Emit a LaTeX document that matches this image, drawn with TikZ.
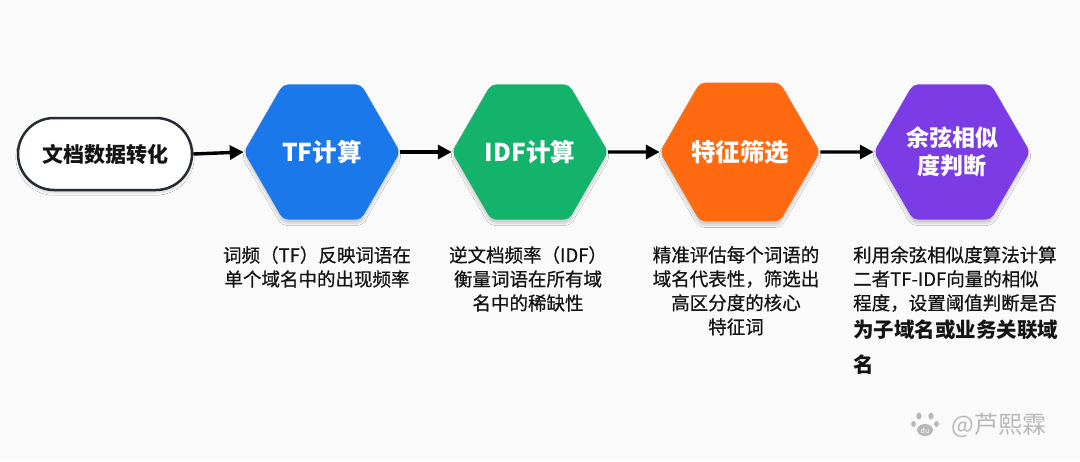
\documentclass[tikz,border=0pt]{standalone}
\usepackage{fontspec}
\setmainfont{Noto Sans CJK SC}
\newfontfamily\descfont[FakeBold=0.7]{Noto Sans CJK SC}
\usetikzlibrary{arrows.meta,shapes.geometric,shadows.blur}
\definecolor{tfblue}{HTML}{1A78EA}
\definecolor{idfgreen}{HTML}{14B36C}
\definecolor{fsorange}{HTML}{FF6A10}
\definecolor{cospurple}{HTML}{7B3CE6}
\definecolor{pillline}{HTML}{272B34}
\definecolor{bgcol}{HTML}{FAFAFA}
\definecolor{txtcol}{HTML}{141414}
\newcommand{\boldline}[1]{{\normalfont\bfseries\fontsize{20.5}{24}\selectfont #1}}
\begin{document}
\begin{tikzpicture}[x=1pt,y=-1pt,
  hexbox/.style={regular polygon, regular polygon sides=6, minimum size=156pt,
    inner sep=0pt, rounded corners=5pt, text=white,
    font=\bfseries\fontsize{24.5}{28}\selectfont, align=center,
    blur shadow={shadow xshift=0pt, shadow yshift=-4pt, shadow opacity=18, shadow blur steps=6}},
  flow/.style={line width=3.4pt, -{Triangle[length=14pt,width=14pt]}},
  desc/.style={font=\descfont\fontsize{18.5}{24}\selectfont, text=txtcol, inner sep=0pt, align=center, anchor=north}]
\fill[bgcol] (0,0) rectangle (1080,461);
\useasboundingbox (0,0) rectangle (1080,461);

\node[draw=pillline, line width=2.5pt, fill=white, rounded corners=36pt,
  minimum width=174pt, minimum height=72pt, inner sep=0pt,
  font=\bfseries\fontsize{21}{24}\selectfont, text=txtcol,
  blur shadow={shadow xshift=0pt, shadow yshift=-3pt, shadow opacity=12, shadow blur steps=5}] (src) at (105,154) {文档数据转化};

\node[hexbox, fill=tfblue] (tf) at (322,152) {TF计算};
\node[hexbox, fill=idfgreen] (idf) at (530,152) {IDF计算};
\node[hexbox, fill=fsorange] (fs) at (740,152) {特征筛选};
\node[hexbox, fill=cospurple, font=\bfseries\fontsize{23}{28}\selectfont] (cos) at (952,152) {余弦相似\\度判断};

\draw[flow] (src.east) -- (tf.west);
\draw[flow] (tf.east) -- (idf.west);
\draw[flow] (idf.east) -- (fs.west);
\draw[flow] (fs.east) -- (cos.west);

\node[desc] (d1) at (317,246) {词频（TF）反映词语在\\单个域名中的出现频率};
\node[desc] (d2) at (528,246) {逆文档频率（IDF）\\衡量词语在所有域\\名中的稀缺性};
\node[desc] (d3) at (736,246) {精准评估每个词语的\\域名代表性，筛选出\\高区分度的核心\\特征词};
\node[desc, align=left, anchor=north west] (d4) at (853,246) {利用余弦相似度算法计算\\二者TF-IDF向量的相似\\程度，设置阈值判断是否\\[4pt]\boldline{为子域名或业务关联域}\\[11pt]\boldline{名}};

% watermark
\node[text=black!28, font=\fontsize{24}{24}\selectfont, inner sep=0pt] (wm) at (999,425) {@芦熙霖};
\begin{scope}[black!28]
\fill (919,416) ellipse (2.6pt and 3.4pt);
\fill (931,416) ellipse (2.6pt and 3.4pt);
\fill (913.5,424) ellipse (2.4pt and 3pt);
\fill (936.5,424) ellipse (2.4pt and 3pt);
\fill (925,430) ellipse (8pt and 6pt);
\node[text=white, font=\fontsize{7}{7}\selectfont, inner sep=0pt] (du) at (925,430.5) {du};
\end{scope}
\end{tikzpicture}
\end{document}
